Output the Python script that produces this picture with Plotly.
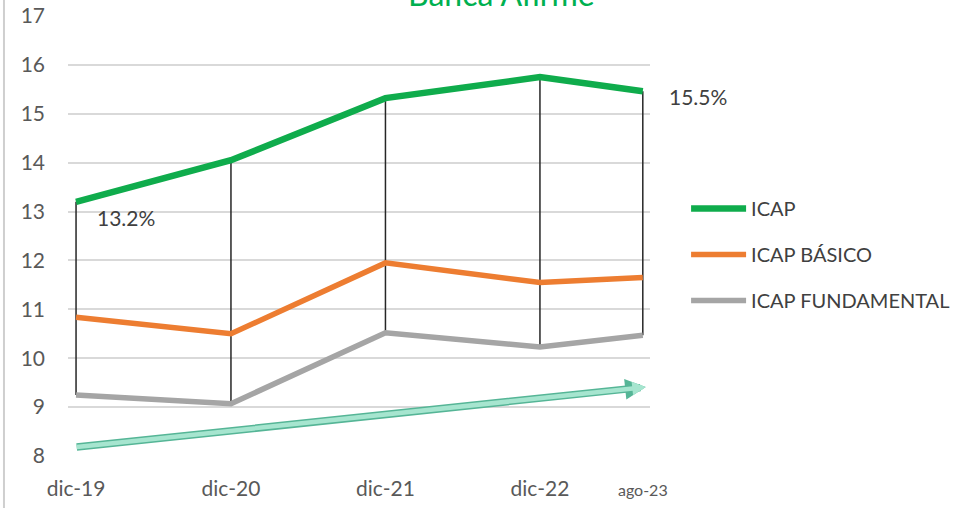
import plotly.graph_objects as go

dates = ["2019-12-31", "2020-12-31", "2021-12-31", "2022-12-31", "2023-08-31"]
tick_labels = ["dic-19", "dic-20", "dic-21", "dic-22", "ago-23"]
icap = [13.2, 14.05, 15.32, 15.75, 15.46]
icap_basico = [10.84, 10.5, 11.95, 11.55, 11.65]
icap_fundamental = [9.25, 9.07, 10.52, 10.23, 10.47]

FONT = "Lato"
GREEN = "#0fac4c"
ORANGE = "#ed7d31"
GRAY = "#a5a5a5"

fig = go.Figure()

# high-low lines
hx, hy = [], []
for d, lo, hi in zip(dates, icap_fundamental, icap):
    hx += [d, d, None]
    hy += [lo, hi, None]
fig.add_trace(go.Scatter(x=hx, y=hy, mode="lines", line=dict(color="#262626", width=1.5),
                         showlegend=False, hoverinfo="skip"))

fig.add_trace(go.Scatter(x=dates, y=icap, mode="lines", name="ICAP", legendgroup="a",
                         line=dict(color=GREEN, width=6.5)))
fig.add_trace(go.Scatter(x=dates, y=icap_basico, mode="lines", name="ICAP BÁSICO", legendgroup="b",
                         line=dict(color=ORANGE, width=5.5)))
fig.add_trace(go.Scatter(x=dates, y=icap_fundamental, mode="lines", name="ICAP FUNDAMENTAL", legendgroup="c",
                         line=dict(color=GRAY, width=5.5)))

ticktext = tick_labels[:-1] + ["<span style='font-size:16px'>" + tick_labels[-1] + "</span>"]

annotations = [
    dict(x=dates[0], y=icap[0], xref="x", yref="y", text=f"{icap[0]:.1f}%", showarrow=False,
         xshift=50, yshift=-16, font=dict(family=FONT, size=21, color="#404040")),
    dict(x=dates[-1], y=icap[-1], xref="x", yref="y", text=f"{icap[-1]:.1f}%", showarrow=False,
         xshift=55, yshift=-5, font=dict(family=FONT, size=21, color="#404040")),
    dict(x=0.745, y=1.003, xref="paper", yref="paper", text="Banca Afirme", showarrow=False,
         xanchor="center", yanchor="bottom", font=dict(family=FONT, size=32, color="#00b050")),
]
# trend arrow (outline + fill)
for col, w, s in [("#55b596", 7.5, 0.55), ("#a6e5cf", 4.5, 0.6)]:
    annotations.append(dict(x="2023-09-07", y=9.41, ax="2019-12-29", ay=8.18, xref="x", yref="y",
                            axref="x", ayref="y", showarrow=True, arrowhead=2, arrowsize=s,
                            arrowwidth=w, arrowcolor=col, standoff=0, startstandoff=0, text=""))

fig.update_layout(
    width=963, height=508,
    margin=dict(l=68, r=313, t=16, b=52, autoexpand=False),
    paper_bgcolor="white", plot_bgcolor="white",
    font=dict(family=FONT, color="#595959"),
    showlegend=True,
    legend=dict(x=1.062, y=0.607, xanchor="left", yanchor="top", tracegroupgap=17, itemwidth=55,
                font=dict(family=FONT, size=20, color="#404040"), bgcolor="rgba(0,0,0,0)"),
    xaxis=dict(type="date", range=["2019-12-12", "2023-09-17"], tickvals=dates, ticktext=ticktext,
               showgrid=False, zeroline=False, showline=False, ticks="", automargin=False,
               tickfont=dict(family=FONT, size=21, color="#595959"), ticklabelstandoff=18),
    yaxis=dict(range=[8, 17], tickvals=list(range(8, 18)), showgrid=True, gridcolor="#d9d9d9",
               gridwidth=1.5, zeroline=False, showline=False, ticks="", automargin=False,
               tickfont=dict(family=FONT, size=21, color="#595959"), ticklabelstandoff=22),
    annotations=annotations,
    shapes=[dict(type="line", xref="paper", yref="paper", x0=-0.11, x1=-0.11, y0=-0.12, y1=1.04,
                 line=dict(color="#cfcfcf", width=2))],
)

fig.write_html("out.html")
